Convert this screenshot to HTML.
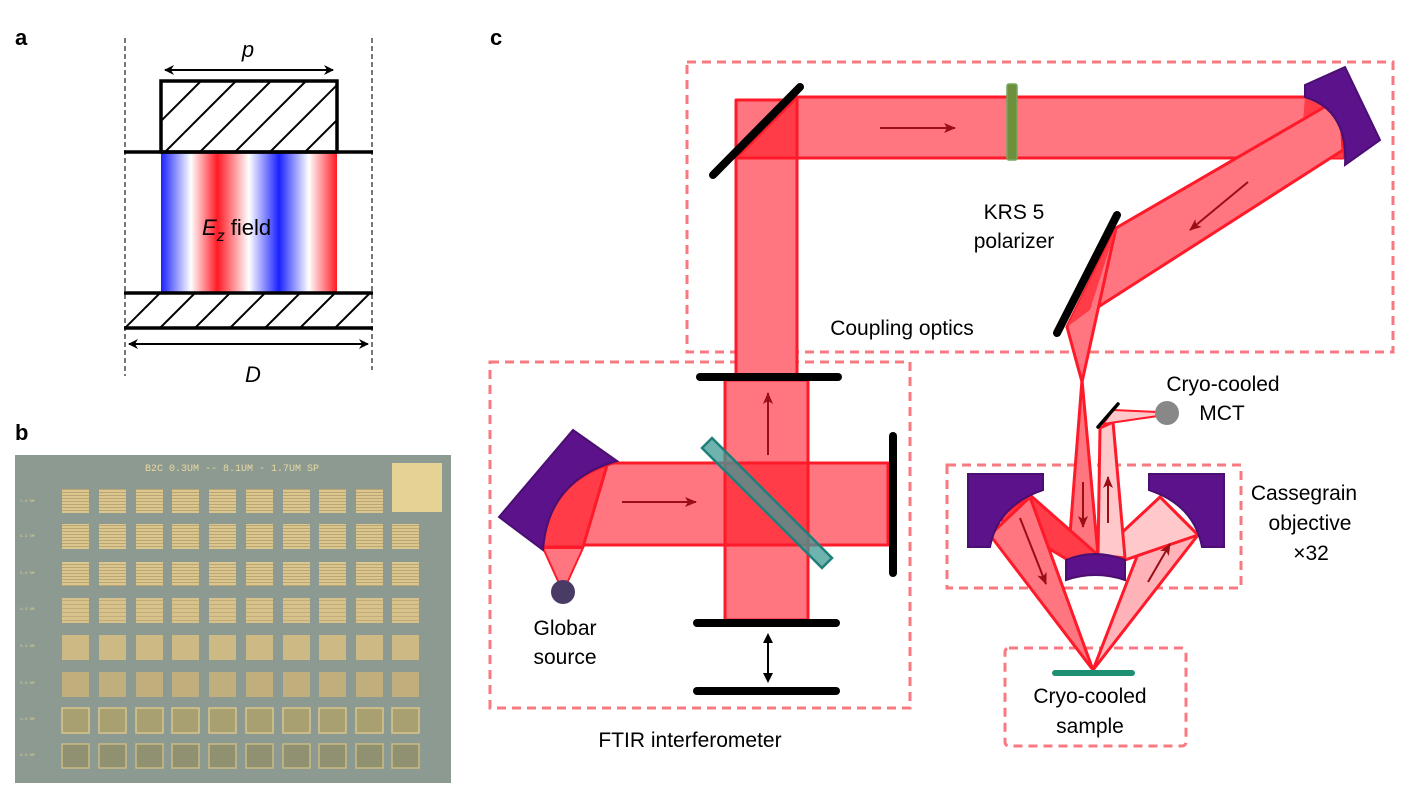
<!DOCTYPE html>
<html><head><meta charset="utf-8"><style>
html,body{margin:0;padding:0;background:#fff;}
svg{display:block;font-family:"Liberation Sans",sans-serif;}
</style></head><body>
<svg width="1416" height="800" viewBox="0 0 1416 800" xmlns="http://www.w3.org/2000/svg">
<defs>
<linearGradient id="fld" x1="161" x2="337" y1="0" y2="0" gradientUnits="userSpaceOnUse">
<stop offset="0" stop-color="#1a22ff"/><stop offset="0.17" stop-color="#fff"/><stop offset="0.32" stop-color="#ff1a24"/><stop offset="0.5" stop-color="#fff"/><stop offset="0.67" stop-color="#1a22ff"/><stop offset="0.84" stop-color="#fff"/><stop offset="1" stop-color="#ff1a24"/>
</linearGradient>
<clipPath id="c1"><rect x="160" y="81" width="178" height="71"/></clipPath>
<clipPath id="c2"><rect x="125" y="293" width="247" height="35"/></clipPath>
<marker id="ah" markerWidth="10" markerHeight="10" refX="9" refY="5" orient="auto" markerUnits="userSpaceOnUse"><path d="M0,0 L10,5 L0,10 L3,5z" fill="#000"/></marker>
<marker id="ar" markerWidth="12" markerHeight="12" refX="11" refY="6" orient="auto" markerUnits="userSpaceOnUse"><path d="M0,1 L12,6 L0,11 L3,6z" fill="#9a0e16"/></marker>
<pattern id="stripe" width="4" height="3" patternUnits="userSpaceOnUse"><rect width="4" height="3" fill="#dcc690"/><rect width="4" height="1" fill="#b9a670"/></pattern>
<pattern id="stripe2" width="4" height="4" patternUnits="userSpaceOnUse"><rect width="4" height="4" fill="#d6c28a"/><rect width="4" height="1" fill="#c0ad78"/></pattern>
</defs>

<!-- panel a -->
<text x="15" y="45" font-size="22" font-weight="bold">a</text>
<line x1="125" y1="38" x2="125" y2="376" stroke="#777" stroke-width="2" stroke-dasharray="5,3"/>
<line x1="372" y1="38" x2="372" y2="370" stroke="#777" stroke-width="2" stroke-dasharray="5,3"/>
<rect x="161" y="153" width="176" height="139" fill="url(#fld)"/>
<g clip-path="url(#c1)" stroke="#000" stroke-width="2">
<line x1="130" y1="152" x2="200" y2="82"/><line x1="165" y1="152" x2="235" y2="82"/><line x1="200" y1="152" x2="270" y2="82"/><line x1="235" y1="152" x2="305" y2="82"/><line x1="270" y1="152" x2="340" y2="82"/><line x1="305" y1="152" x2="375" y2="82"/>
</g>
<rect x="161" y="81" width="176" height="71" fill="none" stroke="#000" stroke-width="3.5"/>
<g clip-path="url(#c2)" stroke="#000" stroke-width="2">
<line x1="125" y1="328" x2="160" y2="293"/><line x1="160" y1="328" x2="195" y2="293"/><line x1="195" y1="328" x2="230" y2="293"/><line x1="230" y1="328" x2="265" y2="293"/><line x1="265" y1="328" x2="300" y2="293"/><line x1="300" y1="328" x2="335" y2="293"/><line x1="335" y1="328" x2="370" y2="293"/>
</g>
<line x1="124" y1="152" x2="373" y2="152" stroke="#000" stroke-width="3.5"/>
<line x1="124" y1="293" x2="373" y2="293" stroke="#000" stroke-width="3.5"/>
<line x1="124" y1="328" x2="373" y2="328" stroke="#000" stroke-width="3.5"/>
<line x1="172" y1="70" x2="333" y2="70" stroke="#000" stroke-width="2" marker-end="url(#ah)"/>
<line x1="328" y1="70" x2="165" y2="70" stroke="#000" stroke-width="2" marker-end="url(#ah)"/>
<line x1="135" y1="344" x2="368" y2="344" stroke="#000" stroke-width="2" marker-end="url(#ah)"/>
<line x1="360" y1="344" x2="129" y2="344" stroke="#000" stroke-width="2" marker-end="url(#ah)"/>
<text x="248" y="57" font-size="22" font-style="italic" text-anchor="middle">p</text>
<text x="253" y="382" font-size="22" font-style="italic" text-anchor="middle">D</text>
<text x="202" y="235" font-size="22"><tspan font-style="italic">E</tspan><tspan font-style="italic" font-size="16" dy="6">z</tspan><tspan dy="-6"> field</tspan></text>

<!-- panel b -->
<text x="15" y="440" font-size="22" font-weight="bold">b</text>
<rect x="15" y="455" width="436" height="328" fill="#8d9a91"/>
<text x="232" y="471" font-size="10" font-family="Liberation Mono,monospace" fill="#e8d9a0" text-anchor="middle">B2C 0.3UM -- 8.1UM - 1.7UM SP</text>
<rect x="392" y="463" width="50" height="49" fill="#e6d294"/>
<g font-size="4" fill="#e0d090" font-family="Liberation Mono,monospace">
<text x="20" y="502">7.3 UM</text><text x="20" y="537">6.3 UM</text><text x="20" y="574">5.3 UM</text><text x="20" y="610">4.3 UM</text><text x="20" y="647">3.3 UM</text><text x="20" y="684">2.3 UM</text><text x="20" y="720">1.3 UM</text><text x="20" y="756">0.3 UM</text>
</g>
<g fill="url(#stripe)">
<rect x="62" y="489" width="27" height="24"/><rect x="99" y="489" width="27" height="24"/><rect x="136" y="489" width="27" height="24"/><rect x="172" y="489" width="27" height="24"/><rect x="209" y="489" width="27" height="24"/><rect x="246" y="489" width="27" height="24"/><rect x="283" y="489" width="27" height="24"/><rect x="319" y="489" width="27" height="24"/><rect x="356" y="489" width="27" height="24"/>
<rect x="62" y="524" width="27" height="25"/><rect x="99" y="524" width="27" height="25"/><rect x="136" y="524" width="27" height="25"/><rect x="172" y="524" width="27" height="25"/><rect x="209" y="524" width="27" height="25"/><rect x="246" y="524" width="27" height="25"/><rect x="283" y="524" width="27" height="25"/><rect x="319" y="524" width="27" height="25"/><rect x="356" y="524" width="27" height="25"/><rect x="392" y="524" width="27" height="25"/>
<rect x="62" y="562" width="27" height="24"/><rect x="99" y="562" width="27" height="24"/><rect x="136" y="562" width="27" height="24"/><rect x="172" y="562" width="27" height="24"/><rect x="209" y="562" width="27" height="24"/><rect x="246" y="562" width="27" height="24"/><rect x="283" y="562" width="27" height="24"/><rect x="319" y="562" width="27" height="24"/><rect x="356" y="562" width="27" height="24"/><rect x="392" y="562" width="27" height="24"/>
</g>
<g fill="url(#stripe2)">
<rect x="62" y="598" width="27" height="25"/><rect x="99" y="598" width="27" height="25"/><rect x="136" y="598" width="27" height="25"/><rect x="172" y="598" width="27" height="25"/><rect x="209" y="598" width="27" height="25"/><rect x="246" y="598" width="27" height="25"/><rect x="283" y="598" width="27" height="25"/><rect x="319" y="598" width="27" height="25"/><rect x="356" y="598" width="27" height="25"/><rect x="392" y="598" width="27" height="25"/>
</g>
<g fill="#cdb983">
<rect x="62" y="635" width="27" height="25"/><rect x="99" y="635" width="27" height="25"/><rect x="136" y="635" width="27" height="25"/><rect x="172" y="635" width="27" height="25"/><rect x="209" y="635" width="27" height="25"/><rect x="246" y="635" width="27" height="25"/><rect x="283" y="635" width="27" height="25"/><rect x="319" y="635" width="27" height="25"/><rect x="356" y="635" width="27" height="25"/><rect x="392" y="635" width="27" height="25"/>
</g>
<g fill="#c0ae7c">
<rect x="62" y="672" width="27" height="25"/><rect x="99" y="672" width="27" height="25"/><rect x="136" y="672" width="27" height="25"/><rect x="172" y="672" width="27" height="25"/><rect x="209" y="672" width="27" height="25"/><rect x="246" y="672" width="27" height="25"/><rect x="283" y="672" width="27" height="25"/><rect x="319" y="672" width="27" height="25"/><rect x="356" y="672" width="27" height="25"/><rect x="392" y="672" width="27" height="25"/>
</g>
<g fill="#a9a072" stroke="#d8c58c" stroke-width="1.5">
<rect x="62" y="708" width="27" height="25"/><rect x="99" y="708" width="27" height="25"/><rect x="136" y="708" width="27" height="25"/><rect x="172" y="708" width="27" height="25"/><rect x="209" y="708" width="27" height="25"/><rect x="246" y="708" width="27" height="25"/><rect x="283" y="708" width="27" height="25"/><rect x="319" y="708" width="27" height="25"/><rect x="356" y="708" width="27" height="25"/><rect x="392" y="708" width="27" height="25"/>
</g>
<g fill="#8f9170" stroke="#cbb982" stroke-width="1.5">
<rect x="62" y="744" width="27" height="24"/><rect x="99" y="744" width="27" height="24"/><rect x="136" y="744" width="27" height="24"/><rect x="172" y="744" width="27" height="24"/><rect x="209" y="744" width="27" height="24"/><rect x="246" y="744" width="27" height="24"/><rect x="283" y="744" width="27" height="24"/><rect x="319" y="744" width="27" height="24"/><rect x="356" y="744" width="27" height="24"/><rect x="392" y="744" width="27" height="24"/>
</g>

<!-- panel c -->
<text x="490" y="45" font-size="22" font-weight="bold">c</text>
<g fill="none" stroke="#f87a80" stroke-width="3" stroke-dasharray="9,6">
<rect x="687" y="62" width="706" height="290"/>
<rect x="490" y="362" width="420" height="346"/>
<rect x="947" y="465" width="294" height="123"/>
<rect x="1005" y="648" width="181" height="98" rx="4"/>
</g>

<g stroke="#ff1a2a" stroke-width="3" stroke-linejoin="round">
<rect x="736" y="100" width="61" height="280" fill="#ff7680"/>
<rect x="797" y="97" width="546" height="61" fill="#ff7680"/>
<polygon points="736,158 797,97 797,158" fill="#ff3c47"/>
<path d="M1305,97 Q1343,110 1343,158 L1300,158z" fill="#ff3c47" stroke="none"/>
<polygon points="1340,98 1116,228 1067,327 1343,150" fill="#ff7680"/>
<polygon points="1116,228 1067,327 1082,382" fill="#ff7680"/>
<polygon points="1116,228 1067,327 1090,310" fill="#ff3c47" stroke="none"/>
<rect x="725" y="380" width="83" height="240" fill="#ff7680"/>
<rect x="580" y="463" width="308" height="82" fill="#ff7680"/>
<rect x="725" y="463" width="83" height="82" fill="#ff3c47"/>
<path d="M617,462 Q548,480 543,547 L583,547 L608,462z" fill="#ff3c47"/>
<polygon points="543,548 583,548 563,592" fill="#ff7680" stroke-width="2"/>
<polygon points="1082,380 1068,560 1098,555" fill="#ff7680"/>
<polygon points="1068,560 1098,555 1030,495 998,518" fill="#ff3c47"/>
<polygon points="990,535 1030,497 1093,670" fill="#ff7680"/>
<polygon points="1093,670 1160,497 1198,535" fill="#ffb3b8"/>
<polygon points="1098,555 1125,560 1198,535 1160,497" fill="#ffc8cb"/>
<polygon points="1098,555 1125,558 1113,422 1100,428" fill="#ffc8cb"/>
<polygon points="1113,410 1158,412 1158,416 1103,424" fill="#ffc8cb" stroke-width="2"/>
</g>

<g stroke="#000" stroke-width="8" stroke-linecap="round">
<line x1="713" y1="175" x2="800" y2="87"/>
<line x1="1117" y1="215" x2="1057" y2="333"/>
<line x1="700" y1="377" x2="838" y2="377"/>
<line x1="697" y1="623" x2="836" y2="623"/>
<line x1="697" y1="691" x2="836" y2="691"/>
<line x1="893" y1="436" x2="893" y2="573"/>
</g>
<line x1="1098" y1="427" x2="1118" y2="404" stroke="#000" stroke-width="3.5" stroke-linecap="round"/>
<circle cx="1167" cy="413" r="12" fill="#888"/>
<circle cx="563" cy="592" r="12" fill="#4a3a66"/>

<g fill="#5b128a" stroke="#4a0f70" stroke-width="2">
<path d="M499,517 L573,430 L617,461 Q548,480 543,550z"/>
<path d="M1305,85 L1345,67 L1380,140 L1345,165 Q1348,110 1305,97z"/>
<path d="M968,474 L1043,474 L1043,490 Q998,505 990,547 L968,547z"/>
<path d="M1224,474 L1149,474 L1149,490 Q1194,505 1202,547 L1224,547z"/>
<path d="M1066,560 Q1095,548 1125,560 L1125,580 Q1095,570 1066,580z"/>
</g>
<polygon points="702,448 712,438 832,558 822,568" fill="#3f9a94" fill-opacity="0.75" stroke="#1f7f7a" stroke-width="2.5"/>
<rect x="1007" y="84" width="10" height="76" rx="2" fill="#6e8f3c" stroke="#74a85a" stroke-width="1.5"/>
<line x1="1055" y1="673" x2="1132" y2="673" stroke="#1f8f73" stroke-width="6" stroke-linecap="round"/>

<g stroke="#9a0e16" stroke-width="2" fill="none">
<line x1="880" y1="128" x2="955" y2="128" marker-end="url(#ar)"/>
<line x1="1248" y1="182" x2="1190" y2="230" marker-end="url(#ar)"/>
<line x1="622" y1="502" x2="696" y2="502" marker-end="url(#ar)"/>
<line x1="768" y1="455" x2="768" y2="393" marker-end="url(#ar)"/>
<line x1="1083" y1="482" x2="1083" y2="527" marker-end="url(#ar)"/>
<line x1="1108" y1="523" x2="1108" y2="477" marker-end="url(#ar)"/>
<line x1="1020" y1="518" x2="1046" y2="584" marker-end="url(#ar)"/>
<line x1="1148" y1="582" x2="1170" y2="544" marker-end="url(#ar)"/>
</g>
<line x1="768" y1="643" x2="768" y2="673" stroke="#000" stroke-width="2"/>
<path d="M763,643 L768,633 L773,643z M763,673 L768,683 L773,673z" fill="#000"/>

<g font-size="21" fill="#000" text-anchor="middle">
<text x="1014" y="219">KRS 5</text>
<text x="1014" y="248">polarizer</text>
<text x="902" y="335">Coupling optics</text>
<text x="565" y="635">Globar</text>
<text x="565" y="664">source</text>
<text x="690" y="747">FTIR interferometer</text>
<text x="1223" y="391">Cryo-cooled</text>
<text x="1222" y="420">MCT</text>
<text x="1304" y="500">Cassegrain</text>
<text x="1310" y="530">objective</text>
<text x="1311" y="560">×32</text>
<text x="1090" y="703">Cryo-cooled</text>
<text x="1090" y="733">sample</text>
</g>
</svg>
</body></html>
